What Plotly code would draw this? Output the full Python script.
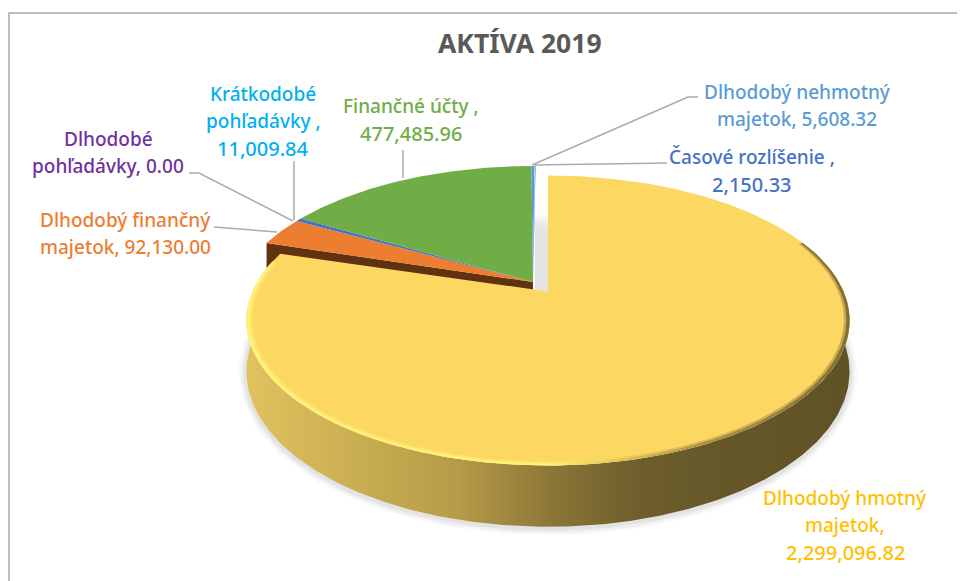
import numpy as np
import plotly.graph_objects as go

# ---- data ----
categories = ["Dlhodobý hmotný majetok", "Dlhodobý finančný majetok", "Dlhodobé pohľadávky",
              "Krátkodobé pohľadávky", "Finančné účty", "Dlhodobý nehmotný majetok", "Časové rozlíšenie"]
values = [2299096.82, 92130.00, 0.00, 11009.84, 477485.96, 5608.32, 2150.33]
face_colors = ["#FCD863", "#ED7D31", "#7030A0", "#4472C4", "#70AD47", "#5B9BD5", "#4472C4"]
label_lines = [["Dlhodobý hmotný", "majetok,", "2,299,096.82"], ["Dlhodobý finančný", "majetok, 92,130.00"],
               ["Dlhodobé", "pohľadávky, 0.00"], ["Krátkodobé", "pohľadávky ,", "11,009.84"],
               ["Finančné účty ,", "477,485.96"], ["Dlhodobý nehmotný", "majetok, 5,608.32"],
               ["Časové rozlíšenie ,", "2,150.33"]]
label_colors = ["#FFC000", "#ED7D31", "#7030A0", "#00B0F0", "#70AD47", "#5B9BD5", "#4472C4"]
label_x = [845, 125, 108, 263, 411, 797, 752]
label_y = [498, 220, 139, 94, 106, 92, 157]
title = "AKTÍVA 2019"

# ---- projection of the tilted disc ----
A, B, K, DEPTH = 295.5, 139.2, 0.2, 49.0
MAIN_APEX = (548.0, 291.5)
REST_APEX = (533.0, 282.0)
REST_TURN = np.radians(0.6)
FONT = "Noto Sans"
LINE_GAP = 27

total = sum(values)
cum = np.cumsum([0] + values) / total * 2 * np.pi


def proj(theta, apex, r=1.0, drop=0.0):
    u, v = r * np.sin(theta), r * np.cos(theta)
    d = 1 + K * v
    return apex[0] + A * u / d, apex[1] - B * v / d + drop / d


def sector(t0, t1, apex):
    th = np.linspace(t0, t1, max(3, int((t1 - t0) * 120)))
    x, y = proj(th, apex)
    return np.r_[apex[0], x, apex[0]], np.r_[apex[1], y, apex[1]]


fig = go.Figure()


def poly(x, y, color=None, **kw):
    fig.add_trace(go.Scatter(x=x, y=y, mode="lines", fill="toself", fillcolor=color,
                             line=dict(width=0), hoverinfo="skip", showlegend=False, **kw))


# soft shadow under the main slice wall
th_wall = np.linspace(np.radians(70), np.radians(282), 300)
sx, sy = proj(th_wall, MAIN_APEX, drop=DEPTH)
for w, a in [(16, 0.04), (11, 0.06), (6, 0.08)]:
    fig.add_trace(go.Scatter(x=sx, y=sy + 1, mode="lines", hoverinfo="skip", showlegend=False,
                             line=dict(color=f"rgba(90,90,90,{a})", width=w)))

# wall of the pulled-out group, seen along the cut edge
t_cut = cum[1] + REST_TURN
ex, ey = proj(np.array([t_cut]), REST_APEX)
poly([REST_APEX[0], ex[0], ex[0], REST_APEX[0]],
     [REST_APEX[1], ey[0], ey[0] + DEPTH, REST_APEX[1] + DEPTH], "#61320F")

# gap between the group and the main slice: flat light bands fading upward
gap_x = [MAIN_APEX[0] - 13, MAIN_APEX[0], MAIN_APEX[0], MAIN_APEX[0] - 13]
for top, shade in [(-76, "#F8F8F8"), (-72, "#EFEFEF"), (-68, "#E8E8E8"), (-62, "#E3E3E3")]:
    poly(gap_x, [MAIN_APEX[1] + top, MAIN_APEX[1] + top, MAIN_APEX[1] + 1, MAIN_APEX[1]], shade)

# top faces of the group
for i in range(1, len(values)):
    if values[i] > 0:
        x, y = sector(cum[i] + REST_TURN, cum[i + 1] + REST_TURN, REST_APEX)
        poly(x, y, face_colors[i], name=categories[i])

# main slice wall
tx, ty = proj(th_wall, MAIN_APEX)
bx, by = proj(th_wall, MAIN_APEX, drop=DEPTH)
poly(np.r_[tx, bx[::-1]], np.r_[ty, by[::-1]],
     fillgradient=dict(type="horizontal", colorscale=[
         [0, "#E0C35E"], [0.15, "#CDB154"], [0.35, "#B69B49"], [0.5, "#8E7838"],
         [0.65, "#6E5E2D"], [0.8, "#655729"], [1, "#5F5226"]]))

# main slice face and its bevel
x, y = sector(cum[0], cum[1], MAIN_APEX)
poly(x, y, face_colors[0], name=categories[0])
th_rim = np.linspace(np.radians(68), np.radians(283), 300)
ox, oy = proj(th_rim, MAIN_APEX)
for r, al in [(0.982, 0.45), (0.990, 1.0)]:
    ix, iy = proj(th_rim, MAIN_APEX, r=r)
    poly(np.r_[ox, ix[::-1]], np.r_[oy, iy[::-1]],
         fillgradient=dict(type="horizontal", colorscale=[
             [0, f"rgba(255,242,122,{al})"], [0.5, f"rgba(255,242,122,{al})"],
             [0.6, f"rgba(232,203,92,{al})"], [0.75, f"rgba(170,146,66,{al})"], [1, f"rgba(130,112,50,{al})"]]))

annotations = []
for lx, ly, lines, c in zip(label_x, label_y, label_lines, label_colors):
    for n, line in enumerate(lines):
        numeric = line[0].isdigit()
        annotations.append(dict(x=lx, y=ly + n * LINE_GAP, text=line, showarrow=False, xref="x", yref="y",
                                font=dict(family=FONT, size=20 if numeric else 19, color=c, weight=500)))
annotations.append(dict(x=520, y=43, text=title, showarrow=False, xref="x", yref="y",
                        font=dict(family=FONT, size=26.5, color="#595959", weight=700)))

leaders = [
    [(698, 97), (688, 97), (532, 165)],
    [(667, 163), (534, 165)],
    [(403, 150), (403, 178)],
    [(294, 161), (294, 220)],
    [(189, 173), (199, 173), (293, 221)],
    [(214, 227), (277, 232)],
]
shapes = []
for pts in leaders:
    path = "M " + " L ".join(f"{px},{py}" for px, py in pts)
    shapes.append(dict(type="path", path=path, xref="x", yref="y", line=dict(color="#ABABAB", width=1.5)))
shapes.append(dict(type="rect", xref="x", yref="y", x0=9, y0=13, x1=985, y1=600,
                   line=dict(color="#A6A6A6", width=1.5)))

# the page has an 8 px body margin, so the plot area starts at 8,8 of the window
fig.update_layout(width=957, height=573, margin=dict(l=0, r=0, t=0, b=0),
                  paper_bgcolor="white", plot_bgcolor="white", showlegend=False,
                  xaxis=dict(range=[8, 965], visible=False, fixedrange=True),
                  yaxis=dict(range=[581, 8], visible=False, fixedrange=True),
                  annotations=annotations, shapes=shapes)
fig.write_html("out.html")
